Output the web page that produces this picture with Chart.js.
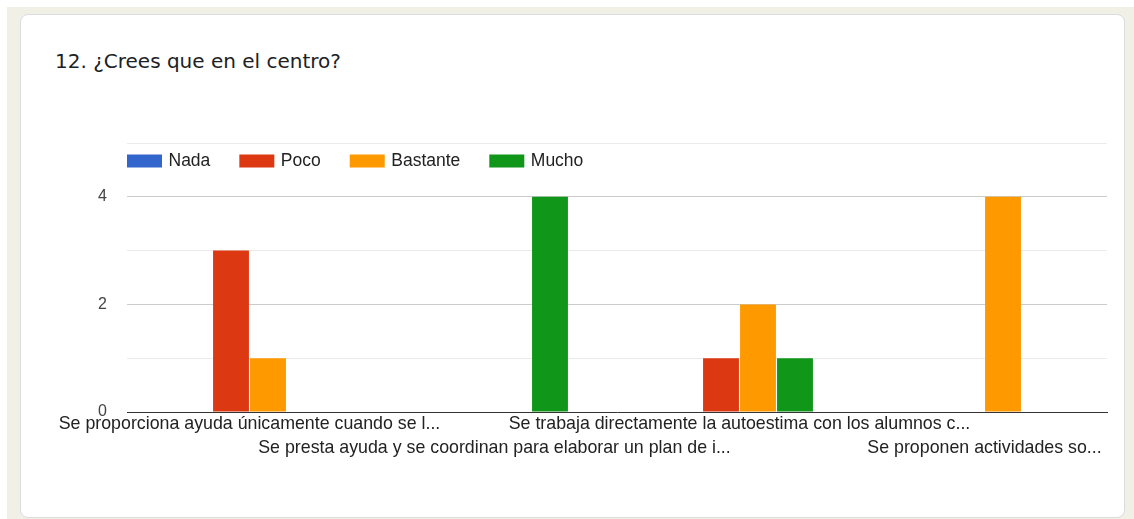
<!DOCTYPE html>
<html>
<head>
<meta charset="utf-8">
<script src="https://cdn.jsdelivr.net/npm/chart.js@4.4.1/dist/chart.umd.min.js"></script>
<style>
  html, body { margin: 0; padding: 0; background: #ffffff; width: 1134px; height: 519px; overflow: hidden; }
  #bg { position: absolute; left: 7px; top: 7px; width: 1127px; height: 512px; background: #f0f0e7; }
  #card { position: absolute; left: 20px; top: 14px; width: 1105px; height: 504px; box-sizing: border-box;
          background: #ffffff; border: 1px solid #dadce0; border-radius: 8px; }
  #title { position: absolute; left: 55px; top: 49px; font-family: "DejaVu Sans", "Open Sans", sans-serif; font-size: 20px;
           line-height: 24px; color: #202124; white-space: nowrap; }
  #c { position: absolute; left: 0; top: 0; }
</style>
</head>
<body>
<div id="bg"></div>
<div id="card"></div>
<div id="title">12. ¿Crees que en el centro?</div>
<canvas id="c" width="1134" height="519"></canvas>
<script>
const categories = [
  'Se proporciona ayuda únicamente cuando se l...',
  'Se presta ayuda y se coordinan para elaborar un plan de i...',
  'Se trabaja directamente la autoestima con los alumnos c...',
  'Se proponen actividades so...'
];
const labelRows = [0, 1, 0, 1];
const seriesNames = ['Nada', 'Poco', 'Bastante', 'Mucho'];
const nada = [0, 0, 0, 0];
const poco = [3, 0, 1, 0];
const bastante = [1, 0, 2, 4];
const mucho = [0, 4, 1, 0];
const yTickLabels = [0, 2, 4];
const colors = ['#3366cc', '#dc3912', '#ff9900', '#109618'];

const labels = categories.map((t, i) => labelRows[i] ? ['', t] : [t]);
const seriesValues = [nada, poco, bastante, mucho];

const legendPlugin = {
  id: 'gLegend',
  afterDraw(chart) {
    const ctx = chart.ctx;
    const area = chart.chartArea;
    ctx.save();
    ctx.font = '17.5px "Liberation Sans", Arial, sans-serif';
    ctx.textBaseline = 'middle';
    ctx.textAlign = 'left';
    let x = area.left;
    const cy = 161;
    chart.data.datasets.forEach(ds => {
      ctx.fillStyle = ds.backgroundColor;
      ctx.fillRect(x, cy - 6.5, 35, 13);
      ctx.fillStyle = '#222222';
      const tx = x + 41.5;
      ctx.fillText(ds.label, tx, cy + 0.5);
      x = tx + ctx.measureText(ds.label).width + 29;
    });
    ctx.restore();
  }
};

new Chart(document.getElementById('c'), {
  type: 'bar',
  data: {
    labels: labels,
    datasets: seriesNames.map((n, i) => ({
      label: n,
      data: seriesValues[i],
      backgroundColor: colors[i],
      borderWidth: 0,
      categoryPercentage: 0.604,
      barPercentage: 0.97
    }))
  },
  options: {
    responsive: false,
    animation: false,
    layout: { padding: { top: 143, right: 27, left: 0, bottom: 0 } },
    plugins: { legend: { display: false }, title: { display: false }, tooltip: { enabled: false } },
    scales: {
      x: {
        grid: { display: false, drawTicks: false },
        border: { display: true, color: '#333333', width: 1 },
        ticks: {
          autoSkip: false, maxRotation: 0, minRotation: 0, padding: 0,
          color: '#222222',
          font: { family: '"Liberation Sans", Arial, sans-serif', size: 17.8, lineHeight: 1.348 }
        },
        afterFit(scale) { scale.height = 107; }
      },
      y: {
        min: 0, max: 5,
        grid: {
          drawTicks: false,
          color: (c) => c.tick.value === 0 ? 'rgba(0,0,0,0)' : (yTickLabels.includes(c.tick.value) ? '#cccccc' : '#ebebeb'),
          lineWidth: 1
        },
        border: { display: false },
        ticks: {
          stepSize: 1, padding: 20, color: '#444444',
          font: { family: '"Liberation Sans", Arial, sans-serif', size: 16 },
          callback: (v) => yTickLabels.includes(v) ? String(v) : ''
        },
        afterFit(scale) { scale.width = 127; }
      }
    }
  },
  plugins: [legendPlugin]
});
</script>
</body>
</html>
